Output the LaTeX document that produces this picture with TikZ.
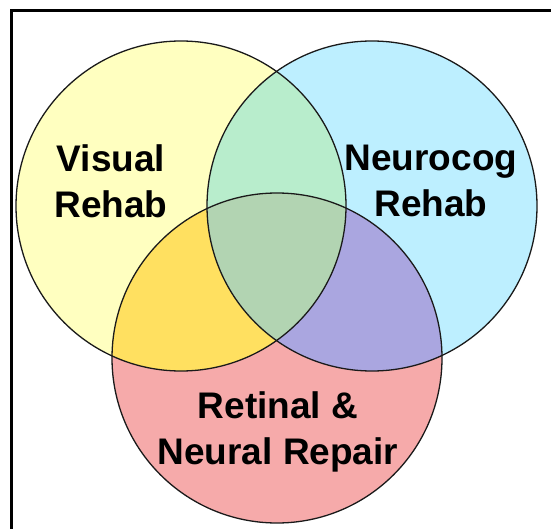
\documentclass[tikz,border=0pt]{standalone}
\usepackage{fontspec}
\setmainfont{Liberation Sans}
\usetikzlibrary{positioning}
\definecolor{visCol}{HTML}{FFFFC0}
\definecolor{cogCol}{HTML}{BDEFFF}
\definecolor{repCol}{HTML}{F6AAAA}
\definecolor{visRepCol}{HTML}{FFE060}
\definecolor{visCogCol}{HTML}{B8EDCC}
\definecolor{cogRepCol}{HTML}{AAA6E0}
\definecolor{allCol}{HTML}{B2D4B2}
\definecolor{edgeCol}{HTML}{1A1A1A}
\newcommand{\rad}{165pt}
\tikzset{
  venn/.style={circle, minimum size=330pt, inner sep=0pt},
  ring/.style={draw=edgeCol, line width=1.3pt},
  lbl/.style={font=\fontsize{37}{46}\selectfont\bfseries, align=center, inner sep=0pt, text=black},
  frame/.style={draw=black, line width=3.5pt},
}
\begin{document}
\begin{tikzpicture}[x=1pt,y=-1pt]
  \useasboundingbox (0,0) rectangle (551,529);
  \clip (0,0) rectangle (551,529);
  \fill[white] (0,0) rectangle (551,529);
  % outer frame (right and bottom edges fall outside)
  \draw[frame] (11.5,10.5) rectangle (570,560);
  % circles
  \node[venn, fill=visCol] (vis) at (181,206) {};
  \node[venn, fill=cogCol] (cog) at (372,206) {};
  \node[venn, fill=repCol] (rep) at (277,358) {};
  % pairwise overlaps
  \begin{scope}
    \clip (vis.center) circle (\rad);
    \fill[visCogCol] (cog.center) circle (\rad);
    \fill[visRepCol] (rep.center) circle (\rad);
  \end{scope}
  \begin{scope}
    \clip (cog.center) circle (\rad);
    \fill[cogRepCol] (rep.center) circle (\rad);
  \end{scope}
  % centre
  \begin{scope}
    \clip (vis.center) circle (\rad);
    \clip (cog.center) circle (\rad);
    \fill[allCol] (rep.center) circle (\rad);
  \end{scope}
  % outlines
  \foreach \c in {vis,cog,rep}{\draw[ring] (\c.center) circle (\rad);}
  % labels
  \node[lbl] (visL) at (111,181) {Visual\\Rehab};
  \node[lbl] (cogL) at (431,181) {Neurocog\\Rehab};
  \node[lbl] (repL) at (278,432) {Retinal \&\\Neural Repair};
\end{tikzpicture}
\end{document}
